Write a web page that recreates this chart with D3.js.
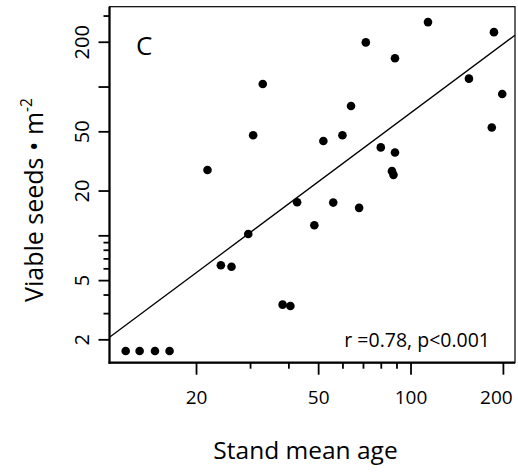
<!DOCTYPE html>
<html>
<head>
<meta charset="utf-8">
<script src="https://cdn.jsdelivr.net/npm/d3@7"></script>
<style>
  body { margin: 0; background: #fff; }
  svg text { font-family: "Open Sans", "Noto Sans", sans-serif; fill: #000; }
</style>
</head>
<body>
<svg id="chart" width="518" height="472"></svg>
<script>
// stand mean age (years) and viable seeds per m2
var ages  = [114, 187, 71.5, 89, 155, 199, 64, 184, 52, 60, 80, 89, 87, 88,
             33, 30.7, 21.8, 42.7, 29.6, 24.1, 26.1, 38.3, 40.6,
             11.8, 13.1, 14.7, 16.4, 56, 68, 48.6];
var seeds = [271, 232, 198, 155, 113, 89, 74, 53, 43, 47, 39, 36, 27, 25.5,
             104, 47, 27.5, 16.7, 10.2, 6.3, 6.15, 3.42, 3.35,
             1.67, 1.67, 1.67, 1.67, 16.6, 15.3, 11.7];

// log10(seeds) = fitA + fitB * log10(age)
var fitA = -1.252;
var fitB = 1.537;

var xMajor = [20, 50, 100, 200];
var xMinor = [30, 40, 60, 70, 80, 90];
var yMajor = [2, 5, 10, 20, 50, 100, 200];
var yLabels = [2, 5, 20, 50, 200];
var yMinor = [3, 4, 6, 7, 8, 9, 300];

var svg = d3.select("#chart");

var plotL = 109.5, plotR = 515, plotT = 6.7, plotB = 362.7;

var x = d3.scaleLog().domain([10.45, 219]).range([plotL, plotR]);
var y = d3.scaleLog().domain([1.393, 344]).range([plotB, plotT]);

// frame
svg.append("rect")
    .attr("x", plotL).attr("y", plotT)
    .attr("width", plotR - plotL).attr("height", plotB - plotT)
    .attr("fill", "none").attr("stroke", "#000").attr("stroke-width", 1.2);

// x axis
var gx = svg.append("g").attr("transform", "translate(0," + plotB + ")");
gx.append("g")
    .call(d3.axisBottom(x).tickValues(xMajor).tickSize(12).tickPadding(16)
        .tickFormat(d3.format("d")));
gx.append("g")
    .call(d3.axisBottom(x).tickValues(xMinor).tickSize(6).tickFormat(""));
gx.selectAll(".domain").remove();
gx.selectAll("line").attr("stroke-width", 1.8);
gx.selectAll("text").attr("font-size", 19).style("font-family", null);
gx.selectAll("text").filter(function(d) { return d === 200; }).attr("dx", -7);

// y axis
var gy = svg.append("g").attr("transform", "translate(" + plotL + ",0)");
gy.append("g")
    .call(d3.axisLeft(y).tickValues(yMajor).tickSize(11)
        .tickFormat(function(d) { return yLabels.indexOf(d) >= 0 ? d : ""; }));
gy.append("g")
    .call(d3.axisLeft(y).tickValues(yMinor).tickSize(6).tickFormat(""));
gy.selectAll(".domain").remove();
gy.selectAll("line").attr("stroke-width", 1.8);
gy.selectAll("text")
    .attr("font-size", 20)
    .attr("transform", "rotate(-90)")
    .attr("x", 0)
    .attr("y", -21)
    .attr("dy", 0)
    .attr("text-anchor", "middle")
    .style("font-family", null);

// thicker axis lines on the left and bottom
svg.append("line")
    .attr("x1", plotL).attr("x2", plotL).attr("y1", plotT).attr("y2", plotB + 1)
    .attr("stroke", "#000").attr("stroke-width", 2.2);
svg.append("line")
    .attr("x1", plotL - 1).attr("x2", plotR).attr("y1", plotB).attr("y2", plotB)
    .attr("stroke", "#000").attr("stroke-width", 2.2);

// regression line across the x domain
var fit = x.domain().map(function(a) {
    return { age: a, seeds: Math.pow(10, fitA + fitB * Math.log10(a)) };
});
svg.append("path")
    .datum(fit)
    .attr("fill", "none")
    .attr("stroke", "#000")
    .attr("stroke-width", 1.3)
    .attr("d", d3.line()
        .x(function(d) { return x(d.age); })
        .y(function(d) { return y(d.seeds); }));

// points
svg.append("g")
    .selectAll("circle")
    .data(ages)
    .enter().append("circle")
    .attr("cx", function(d) { return x(d); })
    .attr("cy", function(d, i) { return y(seeds[i]); })
    .attr("r", 4.3)
    .attr("fill", "#000");

// panel letter and stats
svg.append("text")
    .attr("x", 136).attr("y", 54.5)
    .attr("font-size", 26)
    .text("C");

svg.append("text")
    .attr("x", 490).attr("y", 347)
    .attr("text-anchor", "end")
    .attr("font-size", 19.5)
    .text("r =0.78, p<0.001");

// axis titles
svg.append("text")
    .attr("x", 305.5).attr("y", 459)
    .attr("text-anchor", "middle")
    .attr("font-size", 24.5)
    .text("Stand mean age");

var ylab = svg.append("text")
    .attr("transform", "translate(43,200) rotate(-90)")
    .attr("text-anchor", "middle")
    .attr("font-size", 25);
ylab.append("tspan").text("Viable seeds \u2022 m");
ylab.append("tspan").attr("font-size", 15.5).attr("dy", -11).text("-2");
</script>
</body>
</html>
